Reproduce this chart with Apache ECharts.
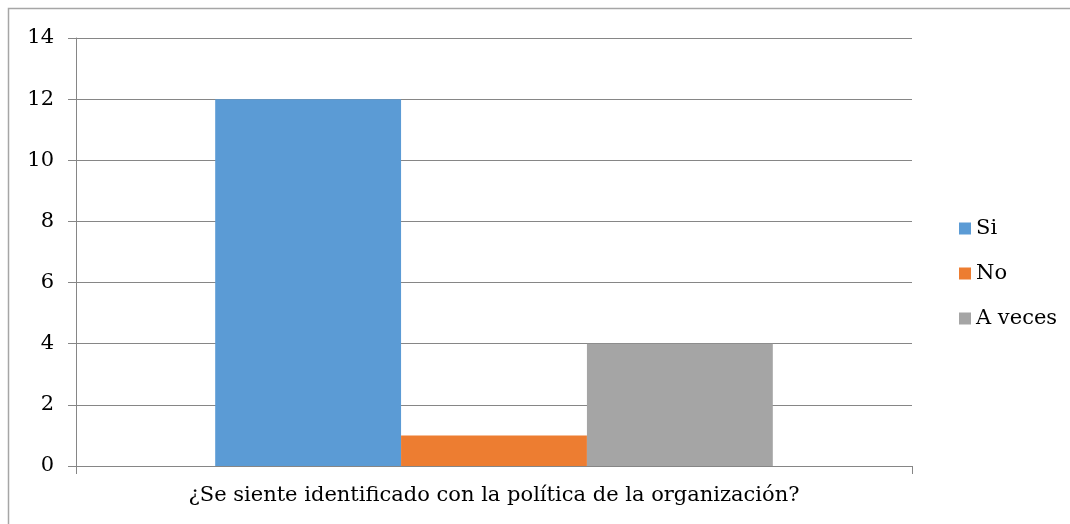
<!DOCTYPE html>
<html>
<head>
<meta charset="utf-8">
<script src="https://cdn.jsdelivr.net/npm/echarts@6/dist/echarts.min.js"></script>
<style>
html,body{margin:0;padding:0;background:#fff;}
#main{width:1070px;height:524px;}
</style>
</head>
<body>
<div id="main"></div>
<script>
// datos
const categories = ['¿Se siente identificado con la política de la organización?']
const seriesNames = ['Si', 'No', 'A veces']
const siValues = [12]
const noValues = [1]
const aVecesValues = [4]
const colors = ['#5B9BD5', '#ED7D31', '#A5A5A5']

// la imagen original esta estirada en horizontal, DejaVu Serif se le acerca mas
const fontFam = 'DejaVu Serif'

const myChart = echarts.init(document.getElementById('main'), null, {renderer: 'canvas'})

const mkBar = (name, data, i) => ({
    name: name,
    type: 'bar',
    data: data,
    barGap: '0%',
    barCategoryGap: '33.3%',
    itemStyle: {color: colors[i]},
    emphasis: {disabled: true}
})

myChart.setOption({
    animation: false,
    textStyle: {fontFamily: fontFam},
    grid: {left: 76, right: 158, top: 38, bottom: 58, containLabel: false},
    graphic: [{
        type: 'rect',
        shape: {x: 8.5, y: 8.5, width: 1070, height: 530},
        style: {fill: null, stroke: '#A6A6A6', lineWidth: 1.5},
        silent: true
    }],
    legend: {
        orient: 'vertical',
        left: 954,
        top: 213,
        itemWidth: 12,
        itemHeight: 12,
        itemGap: 24,
        icon: 'rect',
        selectedMode: false,
        data: seriesNames,
        textStyle: {fontFamily: fontFam, fontSize: 21, color: '#000'}
    },
    xAxis: {
        type: 'category',
        data: categories,
        axisLine: {show: true, lineStyle: {color: '#868686', width: 1}},
        axisTick: {show: true, length: 8, lineStyle: {color: '#868686'}},
        axisLabel: {fontFamily: fontFam, fontSize: 21, color: '#000', margin: 19}
    },
    yAxis: {
        type: 'value',
        min: 0,
        max: 14,
        interval: 2,
        axisLine: {show: true, lineStyle: {color: '#868686', width: 1}},
        axisTick: {show: true, length: 8, lineStyle: {color: '#868686'}},
        splitLine: {show: true, lineStyle: {color: '#868686', width: 1}},
        axisLabel: {fontFamily: fontFam, fontSize: 21, color: '#000', margin: 22}
    },
    series: [
        mkBar(seriesNames[0], siValues, 0),
        mkBar(seriesNames[1], noValues, 1),
        mkBar(seriesNames[2], aVecesValues, 2)
    ]
})
</script>
</body>
</html>
